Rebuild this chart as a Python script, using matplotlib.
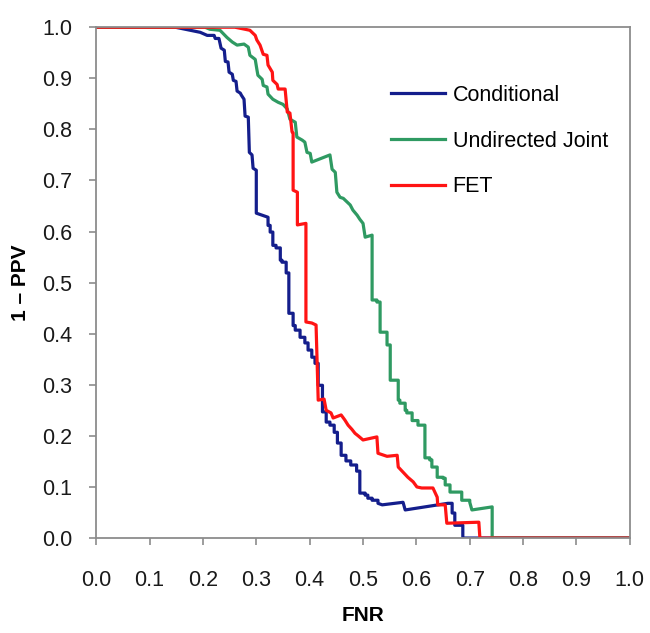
import matplotlib
matplotlib.use('Agg')
import matplotlib.pyplot as plt

plt.rcParams['font.family'] = ['Liberation Sans', 'DejaVu Sans']

# Conditional curve (FNR, 1 - PPV)
cond_fnr = [0.0, 0.148, 0.167, 0.195, 0.208, 0.221, 0.223, 0.230, 0.234, 0.240,
            0.242, 0.247, 0.249, 0.255, 0.257, 0.262, 0.264, 0.270, 0.272, 0.277,
            0.279, 0.285, 0.287, 0.292, 0.294, 0.300, 0.300, 0.311, 0.322, 0.322,
            0.326, 0.326, 0.331, 0.331, 0.337, 0.337, 0.345, 0.345, 0.348, 0.348,
            0.356, 0.356, 0.361, 0.361, 0.369, 0.369, 0.373, 0.373, 0.382, 0.382,
            0.391, 0.391, 0.397, 0.397, 0.404, 0.404, 0.410, 0.410, 0.416, 0.416,
            0.424, 0.424, 0.431, 0.431, 0.438, 0.438, 0.446, 0.446, 0.452, 0.452,
            0.459, 0.459, 0.468, 0.468, 0.477, 0.477, 0.488, 0.488, 0.494, 0.494,
            0.504, 0.504, 0.509, 0.509, 0.517, 0.517, 0.528, 0.528, 0.536, 0.575,
            0.579, 0.659, 0.667, 0.667, 0.672, 0.672, 0.687, 0.687, 1.0]
cond_ppv = [1.0, 1.0, 0.996, 0.990, 0.984, 0.984, 0.978, 0.978, 0.959, 0.955,
            0.933, 0.932, 0.912, 0.908, 0.896, 0.894, 0.875, 0.871, 0.867, 0.859,
            0.826, 0.824, 0.755, 0.750, 0.724, 0.720, 0.636, 0.632, 0.628, 0.612,
            0.612, 0.599, 0.599, 0.573, 0.573, 0.568, 0.568, 0.544, 0.544, 0.540,
            0.540, 0.519, 0.519, 0.440, 0.440, 0.416, 0.416, 0.407, 0.407, 0.393,
            0.393, 0.382, 0.382, 0.368, 0.368, 0.354, 0.354, 0.342, 0.342, 0.299,
            0.299, 0.247, 0.247, 0.227, 0.227, 0.221, 0.221, 0.207, 0.207, 0.186,
            0.186, 0.162, 0.162, 0.151, 0.151, 0.143, 0.143, 0.131, 0.131, 0.088,
            0.088, 0.084, 0.084, 0.078, 0.078, 0.074, 0.074, 0.068, 0.065, 0.070,
            0.055, 0.068, 0.068, 0.049, 0.049, 0.025, 0.025, 0.0, 0.0]

# Undirected Joint curve
joint_fnr = [0.0, 0.204, 0.213, 0.232, 0.245, 0.255, 0.264, 0.277, 0.285, 0.288,
             0.298, 0.301, 0.303, 0.311, 0.313, 0.320, 0.322, 0.331, 0.341, 0.350,
             0.358, 0.363, 0.373, 0.376, 0.386, 0.391, 0.395, 0.401, 0.404, 0.438,
             0.442, 0.448, 0.451, 0.457, 0.463, 0.470, 0.476, 0.481, 0.489, 0.494,
             0.500, 0.504, 0.517, 0.517, 0.526, 0.526, 0.532, 0.532, 0.545, 0.545,
             0.551, 0.551, 0.566, 0.566, 0.569, 0.569, 0.579, 0.579, 0.582, 0.582,
             0.592, 0.592, 0.603, 0.603, 0.616, 0.616, 0.625, 0.625, 0.629, 0.629,
             0.639, 0.639, 0.650, 0.650, 0.654, 0.654, 0.663, 0.663, 0.685, 0.685,
             0.700, 0.700, 0.704, 0.742, 0.742, 1.0]
joint_ppv = [1.0, 1.0, 0.996, 0.994, 0.980, 0.971, 0.965, 0.967, 0.961, 0.945,
             0.937, 0.918, 0.906, 0.898, 0.886, 0.883, 0.869, 0.859, 0.853, 0.849,
             0.840, 0.820, 0.814, 0.785, 0.779, 0.775, 0.755, 0.753, 0.736, 0.750,
             0.722, 0.716, 0.677, 0.667, 0.665, 0.658, 0.652, 0.642, 0.632, 0.624,
             0.616, 0.589, 0.593, 0.466, 0.466, 0.462, 0.462, 0.403, 0.403, 0.378,
             0.378, 0.309, 0.309, 0.270, 0.270, 0.264, 0.264, 0.250, 0.250, 0.245,
             0.245, 0.230, 0.230, 0.221, 0.221, 0.157, 0.157, 0.153, 0.153, 0.139,
             0.139, 0.119, 0.119, 0.117, 0.117, 0.104, 0.104, 0.090, 0.090, 0.074,
             0.074, 0.070, 0.055, 0.061, 0.0, 0.0]

# FET curve
fet_fnr = [0.0, 0.260, 0.279, 0.288, 0.298, 0.301, 0.307, 0.313, 0.320, 0.322,
           0.330, 0.331, 0.339, 0.341, 0.354, 0.358, 0.363, 0.367, 0.369, 0.369,
           0.377, 0.377, 0.393, 0.393, 0.404, 0.412, 0.416, 0.427, 0.431, 0.440,
           0.444, 0.459, 0.466, 0.472, 0.479, 0.485, 0.491, 0.500, 0.526, 0.528,
           0.545, 0.564, 0.566, 0.575, 0.584, 0.594, 0.601, 0.610, 0.631, 0.639,
           0.640, 0.654, 0.657, 0.717, 0.719, 1.0]
fet_ppv = [1.0, 1.0, 0.996, 0.994, 0.984, 0.975, 0.965, 0.947, 0.945, 0.926,
           0.912, 0.896, 0.888, 0.879, 0.879, 0.834, 0.832, 0.795, 0.793, 0.681,
           0.677, 0.613, 0.616, 0.423, 0.421, 0.417, 0.270, 0.272, 0.250, 0.245,
           0.235, 0.241, 0.231, 0.221, 0.213, 0.205, 0.200, 0.192, 0.198, 0.166,
           0.160, 0.162, 0.139, 0.129, 0.119, 0.110, 0.100, 0.098, 0.098, 0.080,
           0.065, 0.065, 0.029, 0.031, 0.0, 0.0]

ticks = [0.0, 0.1, 0.2, 0.3, 0.4, 0.5, 0.6, 0.7, 0.8, 0.9, 1.0]

fig = plt.figure(figsize=(6.5, 6.33), dpi=100)
ax = fig.add_axes([0.148, 0.150, 0.821, 0.807])

lw = 2.3
ax.plot(cond_fnr, cond_ppv, color='#141e8c', lw=lw, label='Conditional')
ax.plot(joint_fnr, joint_ppv, color='#2f9a62', lw=lw, label='Undirected Joint')
ax.plot(fet_fnr, fet_ppv, color='#ff1414', lw=lw, label='FET')

ax.set_xlim(0, 1)
ax.set_ylim(0, 1)
ax.set_xticks(ticks)
ax.set_yticks(ticks)
ax.set_xticklabels([f'{t:.1f}' for t in ticks])
ax.set_yticklabels([f'{t:.1f}' for t in ticks])

for s in ax.spines.values():
    s.set_color('#8c8c8c')
    s.set_linewidth(1.3)
ax.tick_params(direction='out', length=5, width=1.2, color='#8c8c8c',
               labelsize=15.5, labelcolor='#1a1a1a')
ax.tick_params(axis='x', pad=18)
ax.tick_params(axis='y', pad=12)

ax.set_xlabel('FNR', fontsize=15, fontweight='bold', labelpad=11)
ax.set_ylabel('1 – PPV', fontsize=15, fontweight='bold', labelpad=9)

ax.legend(loc='upper left', bbox_to_anchor=(0.553, 0.887), frameon=False,
          fontsize=15.5, handlelength=2.5, handletextpad=0.35,
          labelspacing=1.15, borderaxespad=0, borderpad=0)

fig.savefig('out.png', dpi=100)
